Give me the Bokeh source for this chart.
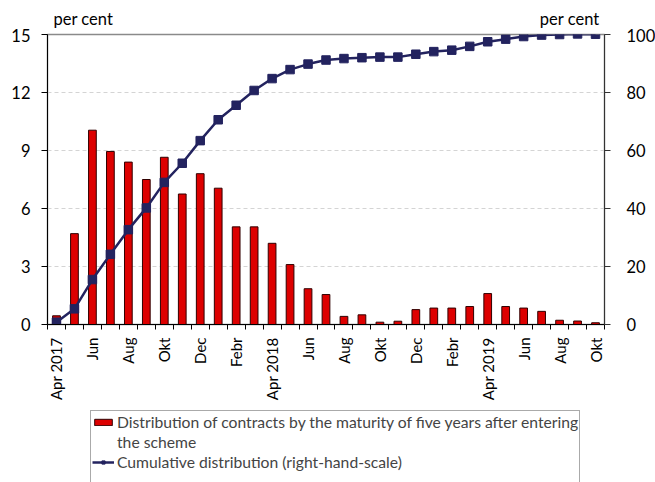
import math
from bokeh.plotting import figure
from bokeh.layouts import column
from bokeh.models import (Range1d, LinearAxis, FixedTicker, Legend, LegendItem, Label)
from bokeh.embed import file_html
from bokeh.resources import INLINE

months = ["Apr 2017", "May", "Jun", "Jul", "Aug", "Sep", "Okt", "Nov", "Dec", "Jan", "Febr", "Mar",
          "Apr 2018", "May", "Jun", "Jul", "Aug", "Sep", "Okt", "Nov", "Dec", "Jan", "Febr", "Mar",
          "Apr 2019", "May", "Jun", "Jul", "Aug", "Sep", "Okt"]
distribution = [0.45, 4.7, 10.05, 8.95, 8.4, 7.5, 8.65, 6.75, 7.8, 7.05, 5.05, 5.05,
                4.2, 3.1, 1.85, 1.55, 0.42, 0.5, 0.12, 0.17, 0.77, 0.85, 0.85, 0.93,
                1.6, 0.93, 0.85, 0.68, 0.22, 0.18, 0.09]
cumulative = [0.8, 5.4, 15.5, 24.2, 32.7, 40.2, 49.0, 55.6, 63.4, 70.6, 75.6, 80.7,
              84.8, 87.9, 89.8, 91.2, 91.7, 92.0, 92.2, 92.2, 93.2, 94.1, 94.6, 95.9,
              97.5, 98.4, 99.3, 99.8, 100.0, 100.2, 100.1]
tick_positions = list(range(0, 31, 2))
tick_labels = ["Apr 2017", "Jun", "Aug", "Okt", "Dec", "Febr", "Apr 2018", "Jun", "Aug",
               "Okt", "Dec", "Febr", "Apr 2019", "Jun", "Aug", "Okt"]
left_ticks = [0, 3, 6, 9, 12, 15]
right_ticks = [0, 20, 40, 60, 80, 100]
unit_label = "per cent"
legend_line1 = "Distribution of contracts by the maturity of five years after entering"
legend_line2 = "the scheme"
legend_cum = "Cumulative distribution (right-hand-scale)"

FONT = "Lato"
FS = "16.5px"
XFS = "15px"
LFS = "15.7px"
NAVY = "#23235f"
RED = "#dd0000"
BAR_LINE = "#300000"
W = 655

x = list(range(len(months)))
xr = Range1d(-0.5, len(months) - 0.5)

# header strip with the two unit labels (y range measured in pixels)
t = figure(width=W, height=28, output_backend="svg", toolbar_location=None,
           x_range=xr, y_range=Range1d(0, 28), x_axis_type=None, y_axis_type=None,
           min_border_left=47, min_border_right=51, min_border_top=0, min_border_bottom=0)
t.outline_line_color = None
t.grid.visible = False
for xpos, align, off in [(-0.5, "left", 6), (len(months) - 0.5, "right", -2)]:
    t.add_layout(Label(x=xpos, y=9.5, text=unit_label, text_align=align, x_offset=off,
                       text_baseline="alphabetic", text_font=FONT, text_font_size=FS,
                       text_color="black"))

# main chart
p = figure(width=W, height=382, output_backend="svg", toolbar_location=None,
           x_range=xr, y_range=Range1d(0, 15),
           min_border_left=47, min_border_right=51, min_border_top=6, min_border_bottom=86)
p.frame_width = 557
p.frame_height = 290
p.extra_y_ranges = {"cum": Range1d(0, 100)}
p.background_fill_color = "white"
p.border_fill_color = "white"
p.outline_line_color = "#8a8a8a"
p.outline_line_width = 1.5

p.vbar(x=x, top=distribution, width=0.43, fill_color=RED, line_color=BAR_LINE, line_width=1)
p.line(x=x, y=cumulative, y_range_name="cum", line_color=NAVY, line_width=2.5)
p.scatter(x=x, y=cumulative, y_range_name="cum", marker="square", size=8.5,
          fill_color=NAVY, line_color=NAVY)

xa = p.xaxis[0]
xa.ticker = FixedTicker(ticks=tick_positions, minor_ticks=[i - 0.5 for i in range(len(months) + 1)])
xa.major_label_overrides = {t_: l for t_, l in zip(tick_positions, tick_labels)}
xa.major_label_orientation = math.pi / 2
xa.major_tick_line_color = None
xa.major_tick_out = 5
xa.major_tick_in = 0
xa.minor_tick_line_color = "black"
xa.minor_tick_out = 5
xa.minor_tick_in = 0
xa.major_label_standoff = 8
xa.axis_line_color = "black"

ya = p.yaxis[0]
ya.ticker = FixedTicker(ticks=left_ticks)
ya.minor_tick_line_color = None
ya.major_tick_in = 0
ya.major_tick_out = 6
ya.axis_line_color = "black"
ya.major_label_standoff = 11

ra = LinearAxis(y_range_name="cum", ticker=FixedTicker(ticks=right_ticks))
ra.minor_tick_line_color = None
ra.major_tick_in = 0
ra.major_tick_out = 6
ra.axis_line_color = "#333333"
ra.major_tick_line_color = "#333333"
ra.major_label_standoff = 16
p.add_layout(ra, "right")

for ax in [xa, ya, ra]:
    ax.major_label_text_font = FONT
    ax.major_label_text_font_size = FS
    ax.major_label_text_color = "black"
xa.major_label_text_font_size = XFS

p.xgrid.grid_line_color = None
p.ygrid.ticker = FixedTicker(ticks=left_ticks)
p.ygrid.grid_line_color = "#d4d4d4"
p.ygrid.grid_line_dash = "4 3"

# legend strip: hidden copies of the series, only to carry the legend styling
lg = figure(width=W, height=72, output_backend="svg", toolbar_location=None,
            x_range=xr, y_range=Range1d(0, 15), x_axis_type=None, y_axis_type=None,
            min_border_left=0, min_border_right=0, min_border_top=0, min_border_bottom=0)
lg.outline_line_color = None
lg.grid.visible = False
r_bar = lg.vbar(x=x, top=distribution, width=0.43, fill_color=RED, line_color=BAR_LINE,
                line_width=1, visible=False)
r_blank = lg.vbar(x=x, top=distribution, width=0.43, fill_color=None, line_color=None, visible=False)
r_line = lg.line(x=x, y=cumulative, line_color=NAVY, line_width=2.5, visible=False)
r_sc = lg.scatter(x=x, y=cumulative, marker="square", size=8.5, fill_color=NAVY,
                  line_color=NAVY, visible=False)

legend = Legend(items=[
    LegendItem(label=legend_line1, renderers=[r_bar]),
    LegendItem(label=legend_line2, renderers=[r_blank]),
    LegendItem(label=legend_cum, renderers=[r_line, r_sc]),
    LegendItem(label=" ", renderers=[r_blank]),
], location=(43, -11))
legend.click_policy = "none"
legend.inactive_fill_alpha = 0
legend.label_text_font = FONT
legend.label_text_font_size = LFS
legend.label_standoff = 3
legend.glyph_width = 22
legend.glyph_height = 8
legend.label_height = 19
legend.spacing = 1
legend.padding = 1
legend.margin = 0
legend.border_line_color = "#555555"
legend.border_line_width = 1
legend.background_fill_alpha = 1
lg.add_layout(legend, "center")

layout = column(t, p, lg, spacing=0)
open("out.html", "w").write(file_html(layout, INLINE))
